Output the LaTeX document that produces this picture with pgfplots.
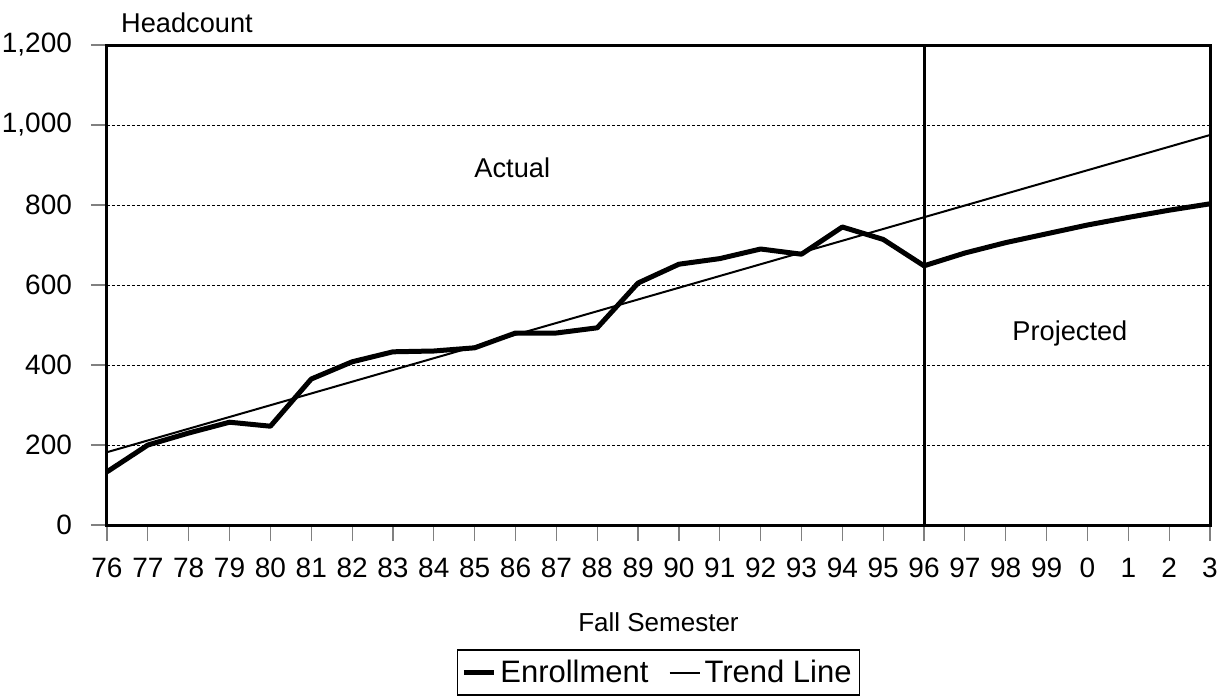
\documentclass[border=0pt]{standalone}
\usepackage{pgfplots}
\pgfplotsset{compat=1.18}
\usepackage{fontspec}
\setmainfont{Liberation Sans}
\pgfplotstableread{
x y
0 133
1 200
2 230
3 257
4 247
5 365
6 408
7 433
8 435
9 443
10 480
11 480
12 493
13 605
14 652
15 666
16 690
17 677
18 745
19 714
20 648
21 680
22 706
23 728
24 750
25 769
26 787
27 803
}\enroll
\pgfplotstableread{
x y
0 182
27 975
}\trend
\begin{document}
\begin{tikzpicture}
\path[use as bounding box] (-53.5pt,-86.5pt) rectangle (559pt,262.5pt);
\begin{axis}[
  at={(0,0)}, anchor=south west,
  scale only axis,
  width=551.5pt, height=240pt,
  xmin=0, xmax=27, ymin=0, ymax=1200,
  xtick={0,...,27},
  xticklabels={76,77,78,79,80,81,82,83,84,85,86,87,88,89,90,91,92,93,94,95,96,97,98,99,0,1,2,3},
  ytick={0,200,...,1200},
  /pgf/number format/assume math mode=true,
  /pgf/number format/1000 sep={,},
  tick label style={font=\fontsize{14}{16}\selectfont},
  xticklabel style={yshift=-5pt},
  yticklabel style={xshift=-6pt},
  tick align=outside,
  major tick length=8pt,
  xtick pos=bottom, ytick pos=left,
  tick style={gray, line width=0.6pt},
  axis line style={line width=1.5pt},
  ymajorgrids,
  grid style={dash pattern=on 1.5pt off 1pt, black, line width=0.4pt},
  xlabel={Fall Semester},
  xlabel style={at={(axis description cs:0.5,-0.202)}, anchor=center, font=\fontsize{13}{15}\selectfont},
  legend columns=2,
  legend style={at={(0.5,-0.2583)}, anchor=north, draw=black, line width=0.8pt,
    font=\fontsize{15.5}{17}\selectfont, inner xsep=2pt, inner ysep=3pt,
    /tikz/every even column/.append style={column sep=8pt}},
  legend image code/.code={\draw[#1] (0pt,0pt) -- (15pt,0pt);},
  clip=false,
]
\addplot[black, line width=2.5pt, line join=round] table[x=x,y=y] {\enroll};
\addlegendentry{Enrollment}
\addplot[black, line width=1pt] table[x=x,y=y] {\trend};
\addlegendentry{Trend Line}
\addplot[black, line width=1.5pt, forget plot] coordinates {(20,0) (20,1200)};
\node[font=\fontsize{13.6}{15}\selectfont] at (axis cs:9.92,892) {Actual};
\node[font=\fontsize{13.6}{15}\selectfont] at (axis cs:23.57,480) {Projected};
\node[font=\fontsize{13.6}{15}\selectfont] at (rel axis cs:0.0725,1.0458) {Headcount};
\end{axis}
\end{tikzpicture}
\end{document}
